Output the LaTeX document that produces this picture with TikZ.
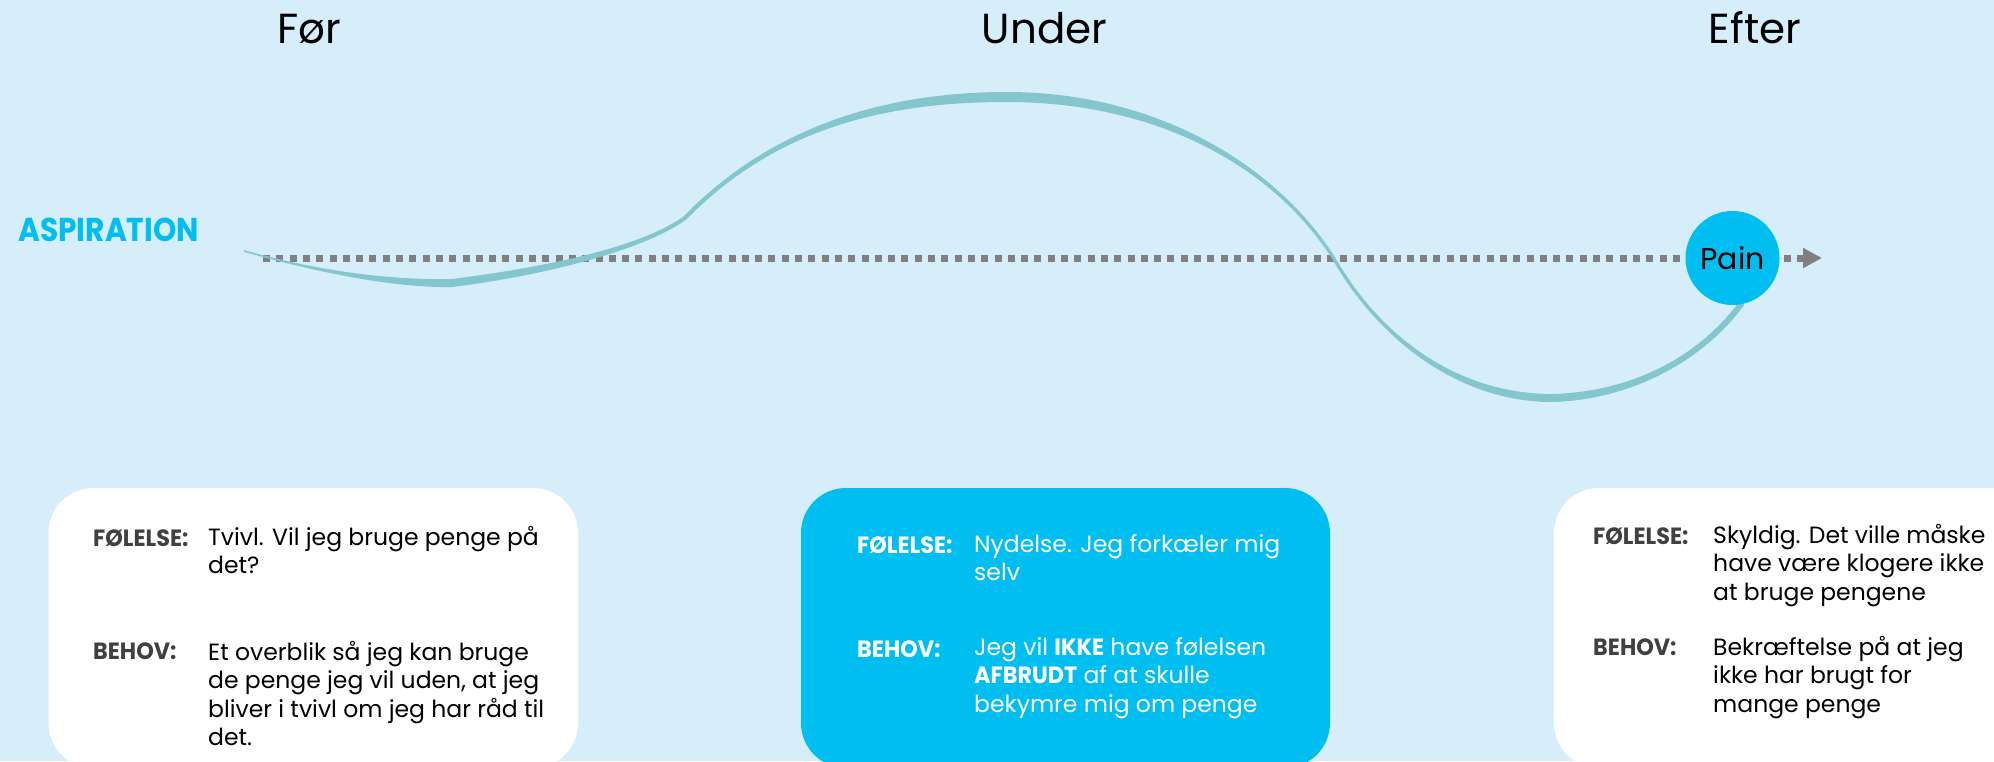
\documentclass[tikz,border=0pt]{standalone}
\usepackage{fontspec}
\setmainfont{Poppins}
\newfontfamily\lblfont{Poppins}[FakeStretch=0.95]
\newfontfamily\aspfont{Poppins}[FakeStretch=0.9]
\usetikzlibrary{arrows.meta}
\pgfdeclarelayer{back}
\pgfdeclarelayer{lines}
\pgfsetlayers{back,lines,main}
\definecolor{bg}{HTML}{D6EDFA}
\definecolor{cyanb}{HTML}{00BEF0}
\definecolor{wave}{HTML}{84C6CE}
\definecolor{dashgray}{HTML}{808080}
\definecolor{lblgray}{HTML}{404040}
\begin{document}
\begin{tikzpicture}[x=1pt,y=-1pt,
  title/.style={font=\fontsize{42}{50}\selectfont, text=black, anchor=base, inner sep=0pt},
  card/.style={rounded corners=45pt},
  lbl/.style={font=\lblfont\bfseries\fontsize{23.5}{28.5}\selectfont, anchor=base west, inner sep=0pt},
  body/.style={font=\fontsize{23.5}{28.5}\selectfont, anchor=base west, inner sep=0pt, align=left},
  dashline/.style={draw=dashgray, line width=7pt, dash pattern=on 7pt off 6.3pt},
]
\useasboundingbox (0,0) rectangle (1994,761);
\begin{pgfonlayer}{back}
  \fill[bg] (0,0) rectangle (1994,761);
  \fill[white, card] (48.5,488) rectangle (578,768);
  \fill[cyanb, card] (801,488) rectangle (1330,768);
  \fill[white, card] (1554,488) rectangle (2084,768);
\end{pgfonlayer}

% wave
\fill[wave] (244.2,250.2)
  .. controls (330.2,274.2) and (399.66,280.0) .. (451.66,279.0)
  .. controls (539.66,268.0) and (638.6,248.5) .. (683.6,216.5)
  .. controls (778.6,118.5) and (900,92) .. (1007,92)
  .. controls (1150,92) and (1271.4,159.2) .. (1334.4,256.2)
  .. controls (1381.4,339.2) and (1460,394) .. (1552,394)
  .. controls (1630,392) and (1697.6,358.2) .. (1739.6,301.2)
  -- (1744.4,304.8)
  .. controls (1702.4,361.8) and (1630,400) .. (1552,402)
  .. controls (1460,402) and (1378.6,340.8) .. (1331.6,257.8)
  .. controls (1268.6,160.8) and (1150,102) .. (1007,102)
  .. controls (900,102) and (781.4,121.5) .. (686.4,219.5)
  .. controls (641.4,251.5) and (540.34,276.0) .. (452.34,287.0)
  .. controls (400.34,288.0) and (329.8,275.8) .. (243.8,251.8)
  -- cycle;

\node[circle, fill=cyanb, minimum size=94pt, inner sep=0pt,
      font=\fontsize{30}{34}\selectfont, text=black] (pain) at (1732.5,258) {Pain};

\coordinate (dstart) at (263,258);
\coordinate (atip) at (1822,258);
\begin{pgfonlayer}{lines}
  \draw[dashline] (dstart) -- (pain.west);
\end{pgfonlayer}
\draw[dashline, dash phase=9pt, -{Triangle[length=19pt,width=19pt]}, fill=dashgray] (pain.east) -- (atip);

% titles
\node[title] (tfor) at (309.5,43) {Før};
\node[title] (tunder) at (1044.5,43) {Under};
\node[title] (tefter) at (1755,43) {Efter};

\node[font=\aspfont\bfseries\fontsize{33}{40}\selectfont, text=cyanb, anchor=base west, inner sep=0pt] (asp) at (18,241) {ASPIRATION};

% card 1 (multi-line nodes are anchored at the baseline of their last line)
\node[lbl, text=lblgray] (f1l) at (93,546) {FØLELSE:};
\node[body, text=black] (f1t) at (208,573.5) {Tvivl. Vil jeg bruge penge på\\det?};
\node[lbl, text=lblgray] (b1l) at (93,659) {BEHOV:};
\node[body, text=black] (b1t) at (208,745.5) {Et overblik så jeg kan bruge\\de penge jeg vil uden, at jeg\\bliver i tvivl om jeg har råd til\\det.};

% card 2
\node[lbl, text=white] (f2l) at (857,553) {FØLELSE:};
\node[body, text=white] (f2t) at (974,580.5) {Nydelse. Jeg forkæler mig\\selv};
\node[lbl, text=white] (b2l) at (857,657) {BEHOV:};
\node[body, text=white] (b2t) at (974,712) {Jeg vil {\lblfont\bfseries IKKE} have følelsen\\{\lblfont\bfseries AFBRUDT} af at skulle\\bekymre mig om penge};

% card 3
\node[lbl, text=lblgray] (f3l) at (1593,544) {FØLELSE:};
\node[body, text=black] (f3t) at (1713,600) {Skyldig. Det ville måske\\have være klogere ikke\\at bruge pengene};
\node[lbl, text=lblgray] (b3l) at (1593,655) {BEHOV:};
\node[body, text=black] (b3t) at (1713,712) {Bekræftelse på at jeg\\ikke har brugt for\\mange penge};
\end{tikzpicture}
\end{document}
